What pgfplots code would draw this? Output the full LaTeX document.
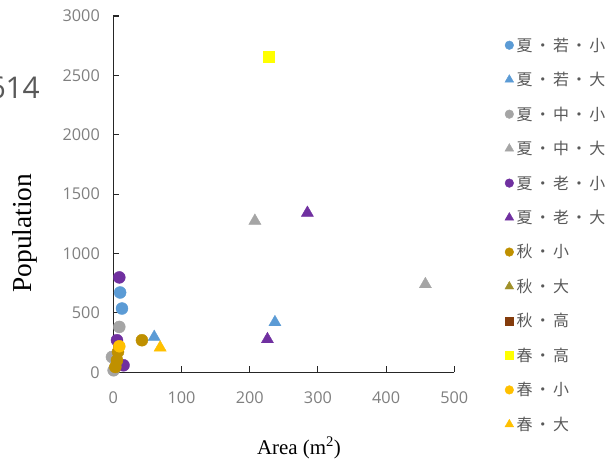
\documentclass[border=0pt]{standalone}
\usepackage{pgfplots}
\pgfplotsset{compat=1.18}
\usepackage{fontspec}
\setmainfont{Liberation Serif}
\newfontfamily\numfont{Open Sans}
\newfontfamily\cjk{Noto Sans CJK JP}[LetterSpace=14]

\definecolor{cBlue}{HTML}{5B9BD5}
\definecolor{cGray}{HTML}{A5A5A5}
\definecolor{cPurple}{HTML}{7030A0}
\definecolor{cGold}{HTML}{BF9000}
\definecolor{cOlive}{HTML}{A0912A}
\definecolor{cBrown}{HTML}{843C0C}
\definecolor{cYellow}{HTML}{FFFF00}
\definecolor{cAmber}{HTML}{FFC000}
\definecolor{tickgray}{HTML}{7F7F7F}
\definecolor{txtgray}{HTML}{595959}

\begin{document}
\begin{tikzpicture}
\useasboundingbox (0,0) rectangle (616bp,461bp);

\node[anchor=east, inner sep=0pt, font=\numfont\fontsize{30}{30}\selectfont, text=txtgray] at (40bp,373bp) {614};

\begin{axis}[
  at={(113.3bp,88.7bp)}, anchor=south west,
  scale only axis, width=341bp, height=356.3bp,
  xmin=0, xmax=500, ymin=0, ymax=3000,
  axis x line*=bottom, axis y line*=left,
  axis line style={black!85, line width=1.1bp},
  xtick={0,100,...,500}, ytick={0,500,...,3000},
  tick align=inside, major tick length=6bp,
  tick style={black!85, line width=1.1bp},
  tick label style={font=\numfont\fontsize{16.3}{16.3}\selectfont, text=tickgray},
  /pgf/number format/assume math mode=true,
  /pgf/number format/1000 sep={},
  xticklabel style={yshift=-16bp},
  yticklabel style={xshift=-10bp},
  clip=false,
  legend cell align=left,
  legend style={draw=none, fill=none, at={(axis description cs:1.148,0.945)}, anchor=north west,
    inner sep=0pt, row sep=15.6bp,
    font=\cjk\fontsize{16}{16}\selectfont, text=txtgray,
    nodes={inner xsep=3bp}},
  legend image code/.code={\draw[mark repeat=2,mark phase=2,#1,mark options={scale=0.72}] plot coordinates {(0bp,0bp) (6bp,0bp) (12bp,0bp)};},
]
% summer, young, small
\addplot[only marks, mark=*, mark size=6bp, color=cBlue] coordinates {(10,672) (12.7,537)};
\addlegendentry{夏・若・小}
% summer, young, large
\addplot[only marks, mark=triangle*, mark size=7bp, color=cBlue] coordinates {(60,297) (237,421)};
\addlegendentry{夏・若・大}
% summer, middle, small
\addplot[only marks, mark=*, mark size=6bp, color=cGray] coordinates {(8.8,382) (-2,129) (0.5,17)};
\addlegendentry{夏・中・小}
% summer, middle, large
\addplot[only marks, mark=triangle*, mark size=7bp, color=cGray] coordinates {(207.6,1275) (457.6,741)};
\addlegendentry{夏・中・大}
% summer, old, small
\addplot[only marks, mark=*, mark size=6bp, color=cPurple] coordinates {(8.8,799) (5.4,270) (15,59)};
\addlegendentry{夏・老・小}
% summer, old, large
\addplot[only marks, mark=triangle*, mark size=7bp, color=cPurple] coordinates {(284.6,1342) (226,278)};
\addlegendentry{夏・老・大}
% autumn, small
\addplot[only marks, mark=*, mark size=6bp, color=cGold] coordinates {(42,270) (6.9,172) (5.4,101) (3,45)};
\addlegendentry{秋・小}
\addlegendimage{only marks, mark=triangle*, mark size=7bp, color=cOlive}
\addlegendentry{秋・大}
\addlegendimage{only marks, mark=square*, mark size=5.5bp, color=cBrown}
\addlegendentry{秋・高}
% spring, high
\addplot[only marks, mark=square*, mark size=5.5bp, color=cYellow] coordinates {(228.5,2656)};
\addlegendentry{春・高}
% spring, small
\addplot[only marks, mark=*, mark size=6bp, color=cAmber] coordinates {(8.8,219)};
\addlegendentry{春・小}
% spring, large
\addplot[only marks, mark=triangle*, mark size=7bp, color=cAmber] coordinates {(68.7,208)};
\addlegendentry{春・大}
\end{axis}

\node[rotate=90, font=\fontsize{27.5}{27.5}\selectfont] at (25bp,228bp) {Population};
\node[font=\fontsize{21}{21}\selectfont] at (299bp,13bp) {Area (m\textsuperscript{2})};
\end{tikzpicture}
\end{document}
